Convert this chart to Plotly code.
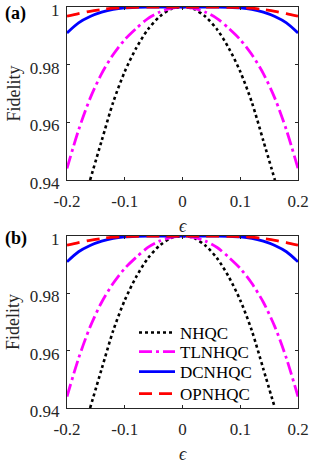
import plotly.graph_objects as go

# ---- data ----
eps = [-0.20, -0.18, -0.16, -0.14, -0.12, -0.10, -0.08, -0.06, -0.04, -0.02, 0.0,
       0.02, 0.04, 0.06, 0.08, 0.10, 0.12, 0.14, 0.16, 0.18, 0.20]

eps_nhqc = [-0.16, -0.14, -0.12, -0.10, -0.08, -0.06, -0.04, -0.02, 0.0,
            0.02, 0.04, 0.06, 0.08, 0.10, 0.12, 0.14, 0.16]
f_nhqc = [0.9400, 0.9536, 0.9670, 0.9776, 0.9858, 0.9922, 0.9966, 0.9993, 1.0,
          0.9993, 0.9966, 0.9922, 0.9858, 0.9776, 0.9670, 0.9536, 0.9400]

f_tlnhqc = [0.9440, 0.9573, 0.9683, 0.9769, 0.9835, 0.9887, 0.9926, 0.9960, 0.9982, 0.9995, 1.0,
            0.9995, 0.9982, 0.9960, 0.9926, 0.9887, 0.9835, 0.9769, 0.9683, 0.9573, 0.9440]

f_dcnhqc = [0.9910, 0.9945, 0.9967, 0.9982, 0.9992, 0.9997, 0.9999, 1.0, 1.0, 1.0, 1.0,
            1.0, 1.0, 1.0, 0.9999, 0.9997, 0.9992, 0.9982, 0.9967, 0.9945, 0.9910]

f_opnhqc = [0.9968, 0.9977, 0.9985, 0.9991, 0.9996, 0.9998, 0.9999, 1.0, 1.0, 1.0, 1.0,
            1.0, 1.0, 1.0, 0.9999, 0.9998, 0.9996, 0.9991, 0.9985, 0.9977, 0.9968]

names = ["NHQC", "TLNHQC", "DCNHQC", "OPNHQC"]
x_ticks = [-0.2, -0.1, 0, 0.1, 0.2]
x_ticktext = ["-0.2", "-0.1", "0", "0.1", "0.2"]
y_ticks = [0.94, 0.96, 0.98, 1.0]
y_ticktext = ["0.94", "0.96", "0.98", "1"]
panel_labels = ["(a)", "(b)"]

# ---- figure ----
W, H = 312, 463
FONT = "Liberation Serif, Times New Roman, serif"
AX = "#262626"

styles = [
    dict(color="black", width=2.6, dash="3px,3px"),
    dict(color="#FF00FF", width=2.8, dash="13px,4px,3px,4px"),
    dict(color="#0000FF", width=2.8, dash="solid"),
    dict(color="#FF0000", width=2.8, dash="13px,7px"),
]

legend_keys = ["legend", "legend2", "legend3", "legend4"]
legend_y_px = [333, 352, 372, 394]

fig = go.Figure()
series_x = [eps_nhqc, eps, eps, eps]
series_y = [f_nhqc, f_tlnhqc, f_dcnhqc, f_opnhqc]

for p, (xa, ya) in enumerate([("x", "y"), ("x2", "y2")]):
    for i in range(4):
        fig.add_trace(go.Scatter(
            x=series_x[i], y=series_y[i], mode="lines", name=names[i],
            line=dict(shape="spline", smoothing=0.8, **styles[i]),
            xaxis=xa, yaxis=ya, showlegend=(p == 1), cliponaxis=True,
            legend=legend_keys[i],
        ))

x0, x1 = 67 / W, 298 / W
ya_dom = [1 - 180 / H, 1 - 7 / H]
yb_dom = [1 - 408 / H, 1 - 236 / H]

axis_common = dict(
    showline=True, linecolor=AX, linewidth=1, mirror="ticks",
    ticks="inside", ticklen=3, tickcolor=AX, tickwidth=1,
    showgrid=False, zeroline=False, automargin=False,
    ticklabeloverflow="allow",
    tickfont=dict(family=FONT, size=17, color=AX),
)

fig.update_layout(
    template="none",
    width=W, height=H, margin=dict(l=0, r=0, t=0, b=0, pad=0, autoexpand=False),
    paper_bgcolor="white", plot_bgcolor="white",
    xaxis=dict(domain=[x0, x1], range=[-0.2, 0.2], anchor="y",
               tickvals=x_ticks, ticktext=x_ticktext, ticklabelstandoff=6, **axis_common),
    yaxis=dict(domain=ya_dom, range=[0.94, 1.0], anchor="x", ticklabelshift=3,
               tickvals=y_ticks, ticktext=y_ticktext, ticklabelstandoff=3, **axis_common),
    xaxis2=dict(domain=[x0, x1], range=[-0.2, 0.2], anchor="y2",
                tickvals=x_ticks, ticktext=x_ticktext, ticklabelstandoff=6, **axis_common),
    yaxis2=dict(domain=yb_dom, range=[0.94, 1.0], anchor="x2", ticklabelshift=3,
                tickvals=y_ticks, ticktext=y_ticktext, ticklabelstandoff=3, **axis_common),
    showlegend=True,
)
for key, ly in zip(legend_keys, legend_y_px):
    fig.update_layout({key: dict(x=134 / W, y=1 - ly / H, xanchor="left", yanchor="middle",
                                 bgcolor="rgba(0,0,0,0)", borderwidth=0, itemwidth=36,
                                 font=dict(family=FONT, size=17, color="black"))})

ann = []
for (ycx, ylab_y, lab, laby) in [(226, 93.5, panel_labels[0], 13), (454, 322, panel_labels[1], 238)]:
    ann.append(dict(text="<i>ϵ</i>", x=(67 + 298) / 2 / W, y=1 - ycx / H, xref="paper", yref="paper",
                    showarrow=False, xanchor="center", yanchor="middle",
                    font=dict(family=FONT, size=18, color=AX)))
    ann.append(dict(text="Fidelity", x=13 / W, y=1 - ylab_y / H, xref="paper", yref="paper",
                    showarrow=False, xanchor="center", yanchor="middle", textangle=-90,
                    font=dict(family=FONT, size=18, color=AX)))
    ann.append(dict(text="<b>" + lab + "</b>", x=3 / W, y=1 - laby / H, xref="paper", yref="paper",
                    showarrow=False, xanchor="left", yanchor="middle",
                    font=dict(family=FONT, size=18, color="black")))
fig.update_layout(annotations=ann)

fig.write_html("out.html", config={"displayModeBar": False},
               post_script="document.body.style.margin='0';document.body.style.overflow='hidden';")
